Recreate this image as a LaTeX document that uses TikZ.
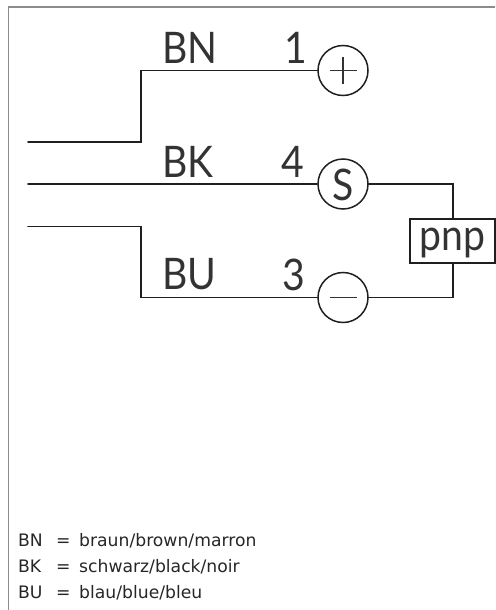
\documentclass[tikz,border=0pt]{standalone}
\usepackage{fontspec}
\setmainfont{Lato}[FakeStretch=0.9]
\newfontfamily\legendfont{DejaVu Sans}
\tikzset{
  x=1pt,y=-1pt,
  wire/.style={line width=1.8pt,draw=black!88,line cap=round,line join=miter},
  term/.style={circle,draw=black!88,line width=1.5pt,minimum size=50pt,inner sep=0pt},
  sym/.style={line width=1.3pt,draw=black!80},
  bigtext/.style={anchor=base west,inner sep=0pt,font=\fontsize{43.5}{43.5}\selectfont,text=black!80},
  pnpbox/.style={draw=black!88,line width=1.6pt,inner sep=0pt,minimum width=85pt,minimum height=44pt},
  midtext/.style={anchor=base,inner sep=0pt,font=\fontsize{43.5}{43.5}\selectfont,text=black!80},
  legend/.style={anchor=base west,inner sep=0pt,font=\legendfont\fontsize{17.2}{17.2}\selectfont,text=black!85},
  frameline/.style={draw=black!45,line width=1.2pt}
}
\begin{document}
\begin{tikzpicture}
\useasboundingbox (0,0) rectangle (495,610);
\draw[frameline] (8.5,610) -- (8.5,7) -- (495,7);

\coordinate (a1) at (28,142);
\coordinate (a2) at (28,184);
\coordinate (a3) at (28,226.5);
\coordinate (b1) at (141,142);
\coordinate (c1) at (141,70.5);
\coordinate (b3) at (141,226.5);
\coordinate (c3) at (141,297.5);
\coordinate (r2) at (453,184);
\coordinate (r3) at (453,297.5);

\node[term] (plus) at (343,70.5) {};
\node[term] (sig) at (343,184) {};
\node[term] (minus) at (343,297.5) {};
\node[pnpbox] (pnp) at (452.5,241) {};
\node[midtext] (pnptext) at (452.5,250) {pnp};
\node[midtext] (stext) at (343,200.5) {S};

\coordinate (pl) at (330,70.5); \coordinate (pr) at (357,70.5);
\coordinate (pt) at (343,57); \coordinate (pb) at (343,84);
\coordinate (ml) at (330,297.5); \coordinate (mr) at (357,297.5);
\draw[sym] (pl) -- (pr);
\draw[sym] (pt) -- (pb);
\draw[sym] (ml) -- (mr);

\draw[wire] (a1) -- (b1) -- (c1) -- (plus.west);
\draw[wire] (a2) -- (sig.west);
\draw[wire] (a3) -- (b3) -- (c3) -- (minus.west);
\draw[wire] (sig.east) -- (r2) -- (r2 |- pnp.north);
\draw[wire] (minus.east) -- (r3) -- (r3 |- pnp.south);

\node[bigtext] (tbn) at (162,63.5) {BN};
\node[bigtext] (tbk) at (162,177) {BK};
\node[bigtext] (tbu) at (162,289.5) {BU};
\node[bigtext] (t1) at (284,63.5) {1};
\node[bigtext] (t4) at (281.5,177) {4};
\node[bigtext] (t3) at (282.5,290.5) {3};

\node[legend] (l1a) at (18,546) {BN};
\node[legend] (l1b) at (56,546) {=};
\node[legend] (l1c) at (79,546) {braun/brown/marron};
\node[legend] (l2a) at (18,572.5) {BK};
\node[legend] (l2b) at (56,572.5) {=};
\node[legend] (l2c) at (79,572.5) {schwarz/black/noir};
\node[legend] (l3a) at (18,598.5) {BU};
\node[legend] (l3b) at (56,598.5) {=};
\node[legend] (l3c) at (79,598.5) {blau/blue/bleu};
\end{tikzpicture}
\end{document}
